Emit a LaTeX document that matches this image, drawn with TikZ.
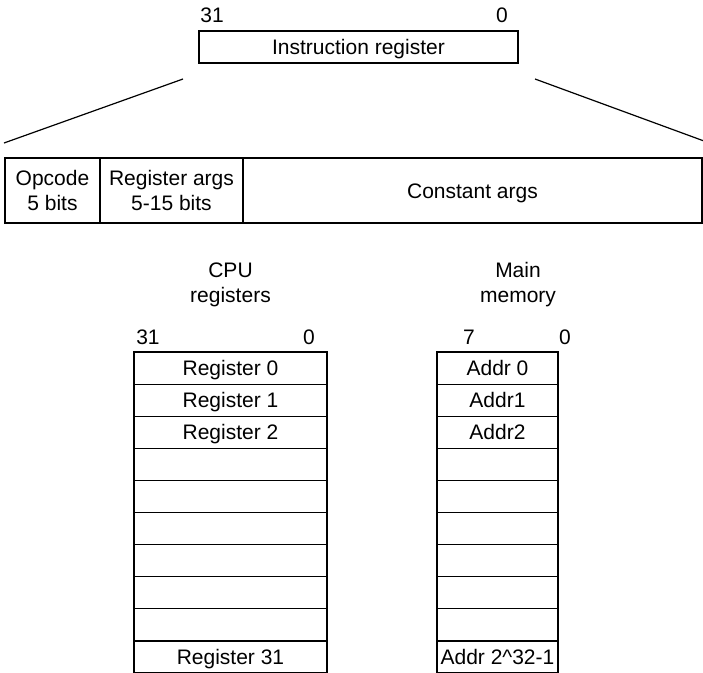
\documentclass[tikz,border=0pt]{standalone}
\usepackage{fontspec}
\setmainfont{Liberation Sans}
\begin{document}
\begin{tikzpicture}[x=1pt,y=-1pt,
  font=\fontsize{21}{25}\selectfont,
  cell/.style={draw, line width=1.2pt, rectangle, inner sep=0pt, outer sep=0pt},
  one/.style={text height=15pt, text depth=0pt},
  lbl/.style={inner sep=0pt, align=center},
  fan/.style={line width=1.2pt}]
\useasboundingbox (0,0) rectangle (703,672);
% instruction register
\node[cell, one, minimum width=319, minimum height=32] (ir) at (358.5,47) {Instruction register};
\node[lbl] (ir31) at (212,15) {31};
\node[lbl] (ir0) at (502,15) {0};
% fan lines
\coordinate (fl1) at (183,79);
\coordinate (fl2) at (4,143);
\coordinate (fr1) at (535,79);
\coordinate (fr2) at (704,141);
\draw[fan] (fl1) -- (fl2);
\draw[fan] (fr1) -- (fr2);
% fields
\node[cell, minimum width=95, minimum height=65, align=center] (op) at (52.5,190.5) {Opcode\\5 bits};
\node[cell, minimum width=143, minimum height=65, align=center] (ra) at (171.5,190.5) {Register args\\5-15 bits};
\node[cell, one, minimum width=459, minimum height=65] (ca) at (472.5,190.5) {Constant args};
% CPU registers
\node[lbl] (cput) at (230.5,284.5) {CPU\\registers};
\node[lbl] (c31) at (148,337) {31};
\node[lbl] (c0) at (309,337) {0};
\foreach \i/\t in {0/Register 0,1/Register 1,2/Register 2,3/,4/,5/,6/,7/,8/,9/Register 31}{
  \node[cell, one, minimum width=193, minimum height=32.1] (reg\i) at (230.5,{368.05+32.1*\i}) {\t};
}
% main memory
\node[lbl] (memt) at (518,284.5) {Main\\memory};
\node[lbl] (m7) at (469,337) {7};
\node[lbl] (m0) at (565,337) {0};
\foreach \i/\t in {0/Addr 0,1/Addr1,2/Addr2,3/,4/,5/,6/,7/,8/,9/Addr 2\^{}32-1}{
  \node[cell, one, minimum width=121, minimum height=32.1] (mem\i) at (497.5,{368.05+32.1*\i}) {\t};
}
\end{tikzpicture}
\end{document}
